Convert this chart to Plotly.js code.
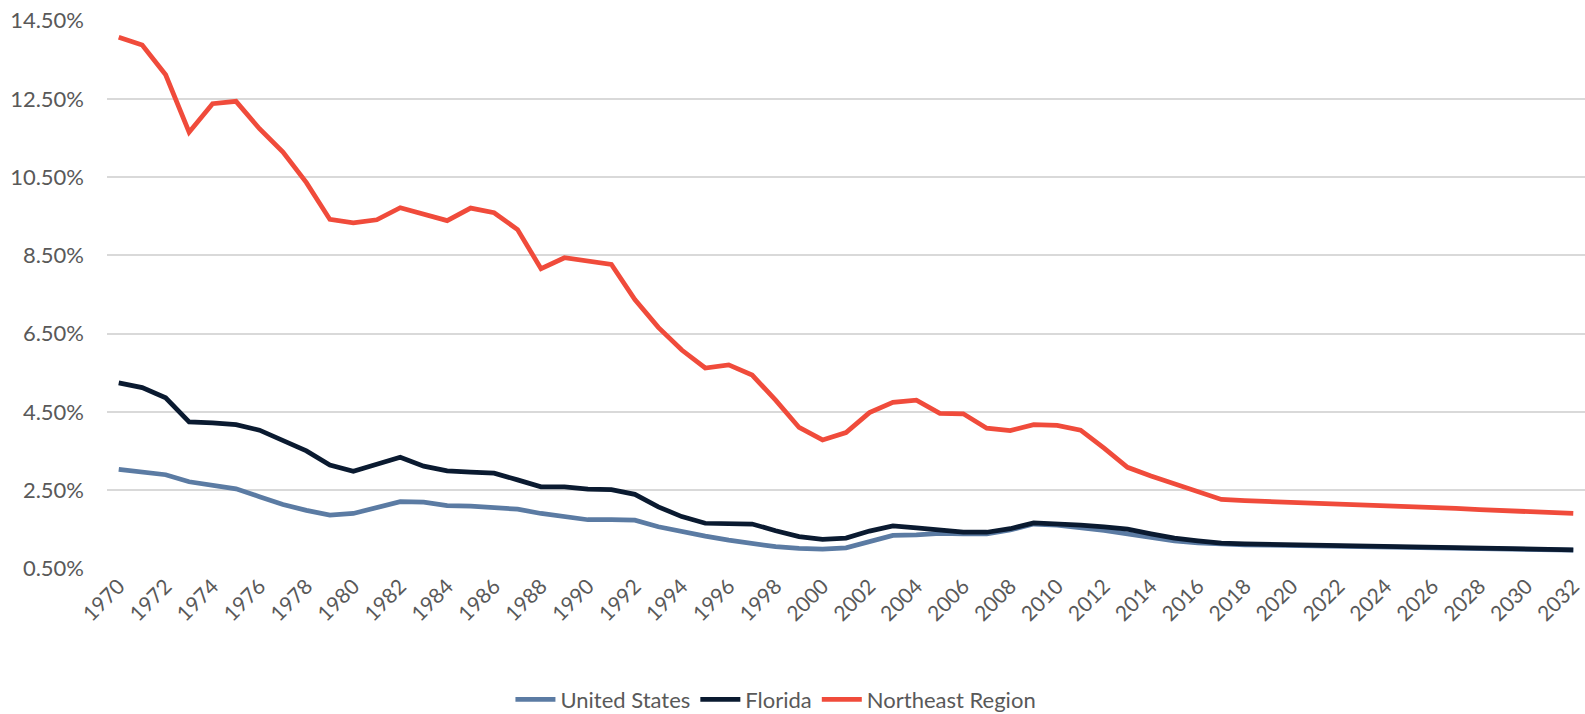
<!DOCTYPE html>
<html>
<head>
<meta charset="utf-8">
<script src="https://cdn.plot.ly/plotly-3.0.1.min.js"></script>
<style>
  html, body { margin: 0; padding: 0; background: #ffffff; }
  #chart { width: 1585px; height: 714px; }
</style>
</head>
<body>
<div id="chart"></div>
<script>
// Years 1970..2032
const years = [
  1970,1971,1972,1973,1974,1975,1976,1977,1978,1979,
  1980,1981,1982,1983,1984,1985,1986,1987,1988,1989,
  1990,1991,1992,1993,1994,1995,1996,1997,1998,1999,
  2000,2001,2002,2003,2004,2005,2006,2007,2008,2009,
  2010,2011,2012,2013,2014,2015,2016,2017,2018,2019,
  2020,2021,2022,2023,2024,2025,2026,2027,2028,2029,
  2030,2031,2032
];

// Values in percent
const unitedStates = [
  3.03,2.97,2.89,2.71,2.63,2.53,2.33,2.13,1.98,1.86,
  1.90,2.06,2.20,2.19,2.10,2.09,2.06,2.01,1.90,1.82,
  1.74,1.74,1.73,1.56,1.43,1.32,1.22,1.13,1.05,1.01,
  0.99,1.02,1.18,1.34,1.35,1.39,1.38,1.38,1.48,1.63,
  1.60,1.54,1.47,1.38,1.28,1.20,1.15,1.11,1.10,1.09,
  1.08,1.07,1.06,1.05,1.04,1.03,1.02,1.01,1.00,0.99,
  0.98,0.97,0.96
];

const florida = [
  5.24,5.12,4.86,4.24,4.22,4.17,4.03,3.76,3.50,3.14,
  2.98,3.16,3.34,3.11,2.99,2.96,2.93,2.76,2.58,2.58,
  2.52,2.51,2.39,2.07,1.82,1.65,1.63,1.63,1.46,1.31,
  1.24,1.27,1.45,1.58,1.53,1.46,1.42,1.42,1.51,1.66,
  1.64,1.60,1.56,1.50,1.38,1.27,1.20,1.14,1.12,1.11,
  1.10,1.09,1.08,1.07,1.06,1.05,1.04,1.03,1.02,1.01,
  1.00,0.99,0.97
];

const northeastRegion = [
  14.08,13.88,13.12,11.65,12.38,12.44,11.74,11.14,10.36,9.42,
  9.33,9.41,9.72,9.57,9.39,9.71,9.59,9.16,8.16,8.44,
  8.37,8.27,7.37,6.66,6.08,5.62,5.70,5.44,4.80,4.10,
  3.78,3.97,4.48,4.74,4.80,4.46,4.45,4.08,4.02,4.17,
  4.15,4.03,3.57,3.08,2.86,2.66,2.45,2.26,2.23,2.21,
  2.19,2.16,2.14,2.12,2.10,2.08,2.05,2.03,2.00,1.98,
  1.95,1.93,1.90
];

const seriesNames = ["United States", "Florida", "Northeast Region"];

const yTickVals = [0.5, 2.5, 4.5, 6.5, 8.5, 10.5, 12.5, 14.5];
const yTickText = yTickVals.map(v => v.toFixed(2) + "%");
const xTickVals = years.filter(y => (y - 1970) % 2 === 0);

const fontFamily = "Lato, 'Open Sans', sans-serif";
const textColor = "#595959";

const traces = [
  { x: years, y: unitedStates, name: seriesNames[0], type: "scatter", mode: "lines",
    line: { color: "#5B7BA3", width: 4.75 } },
  { x: years, y: florida, name: seriesNames[1], type: "scatter", mode: "lines",
    line: { color: "#0A1A30", width: 4.75 } },
  { x: years, y: northeastRegion, name: seriesNames[2], type: "scatter", mode: "lines",
    line: { color: "#F04B3B", width: 4.75 } }
];

const layout = {
  width: 1585,
  height: 714,
  margin: { l: 107, r: 0, t: 19.5, b: 145, pad: 0, autoexpand: false },
  paper_bgcolor: "#ffffff",
  plot_bgcolor: "#ffffff",
  font: { family: fontFamily, color: textColor, size: 22 },
  showlegend: true,
  legend: {
    orientation: "h",
    x: 0.4526, xanchor: "center",
    y: -0.238, yanchor: "middle",
    font: { family: fontFamily, color: textColor, size: 22 },
    itemwidth: 40,
    traceorder: "normal"
  },
  xaxis: {
    range: [1969.5, 2032.5],
    tickmode: "array",
    tickvals: xTickVals,
    ticktext: xTickVals.map(String),
    tickangle: -45,
    showgrid: false,
    zeroline: false,
    showline: false,
    ticks: "",
    tickfont: { family: fontFamily, color: textColor, size: 21 },
    automargin: false,
    fixedrange: true
  },
  yaxis: {
    range: [0.48, 14.52],
    tickmode: "array",
    tickvals: yTickVals,
    ticktext: yTickText,
    showgrid: true,
    gridcolor: "#D9D9D9",
    gridwidth: 2,
    zeroline: false,
    showline: false,
    ticks: "",
    ticklabelstandoff: 22,
    tickfont: { family: fontFamily, color: textColor, size: 22 },
    automargin: false,
    fixedrange: true
  }
};

Plotly.newPlot("chart", traces, layout, { displayModeBar: false, staticPlot: true });
</script>
</body>
</html>
